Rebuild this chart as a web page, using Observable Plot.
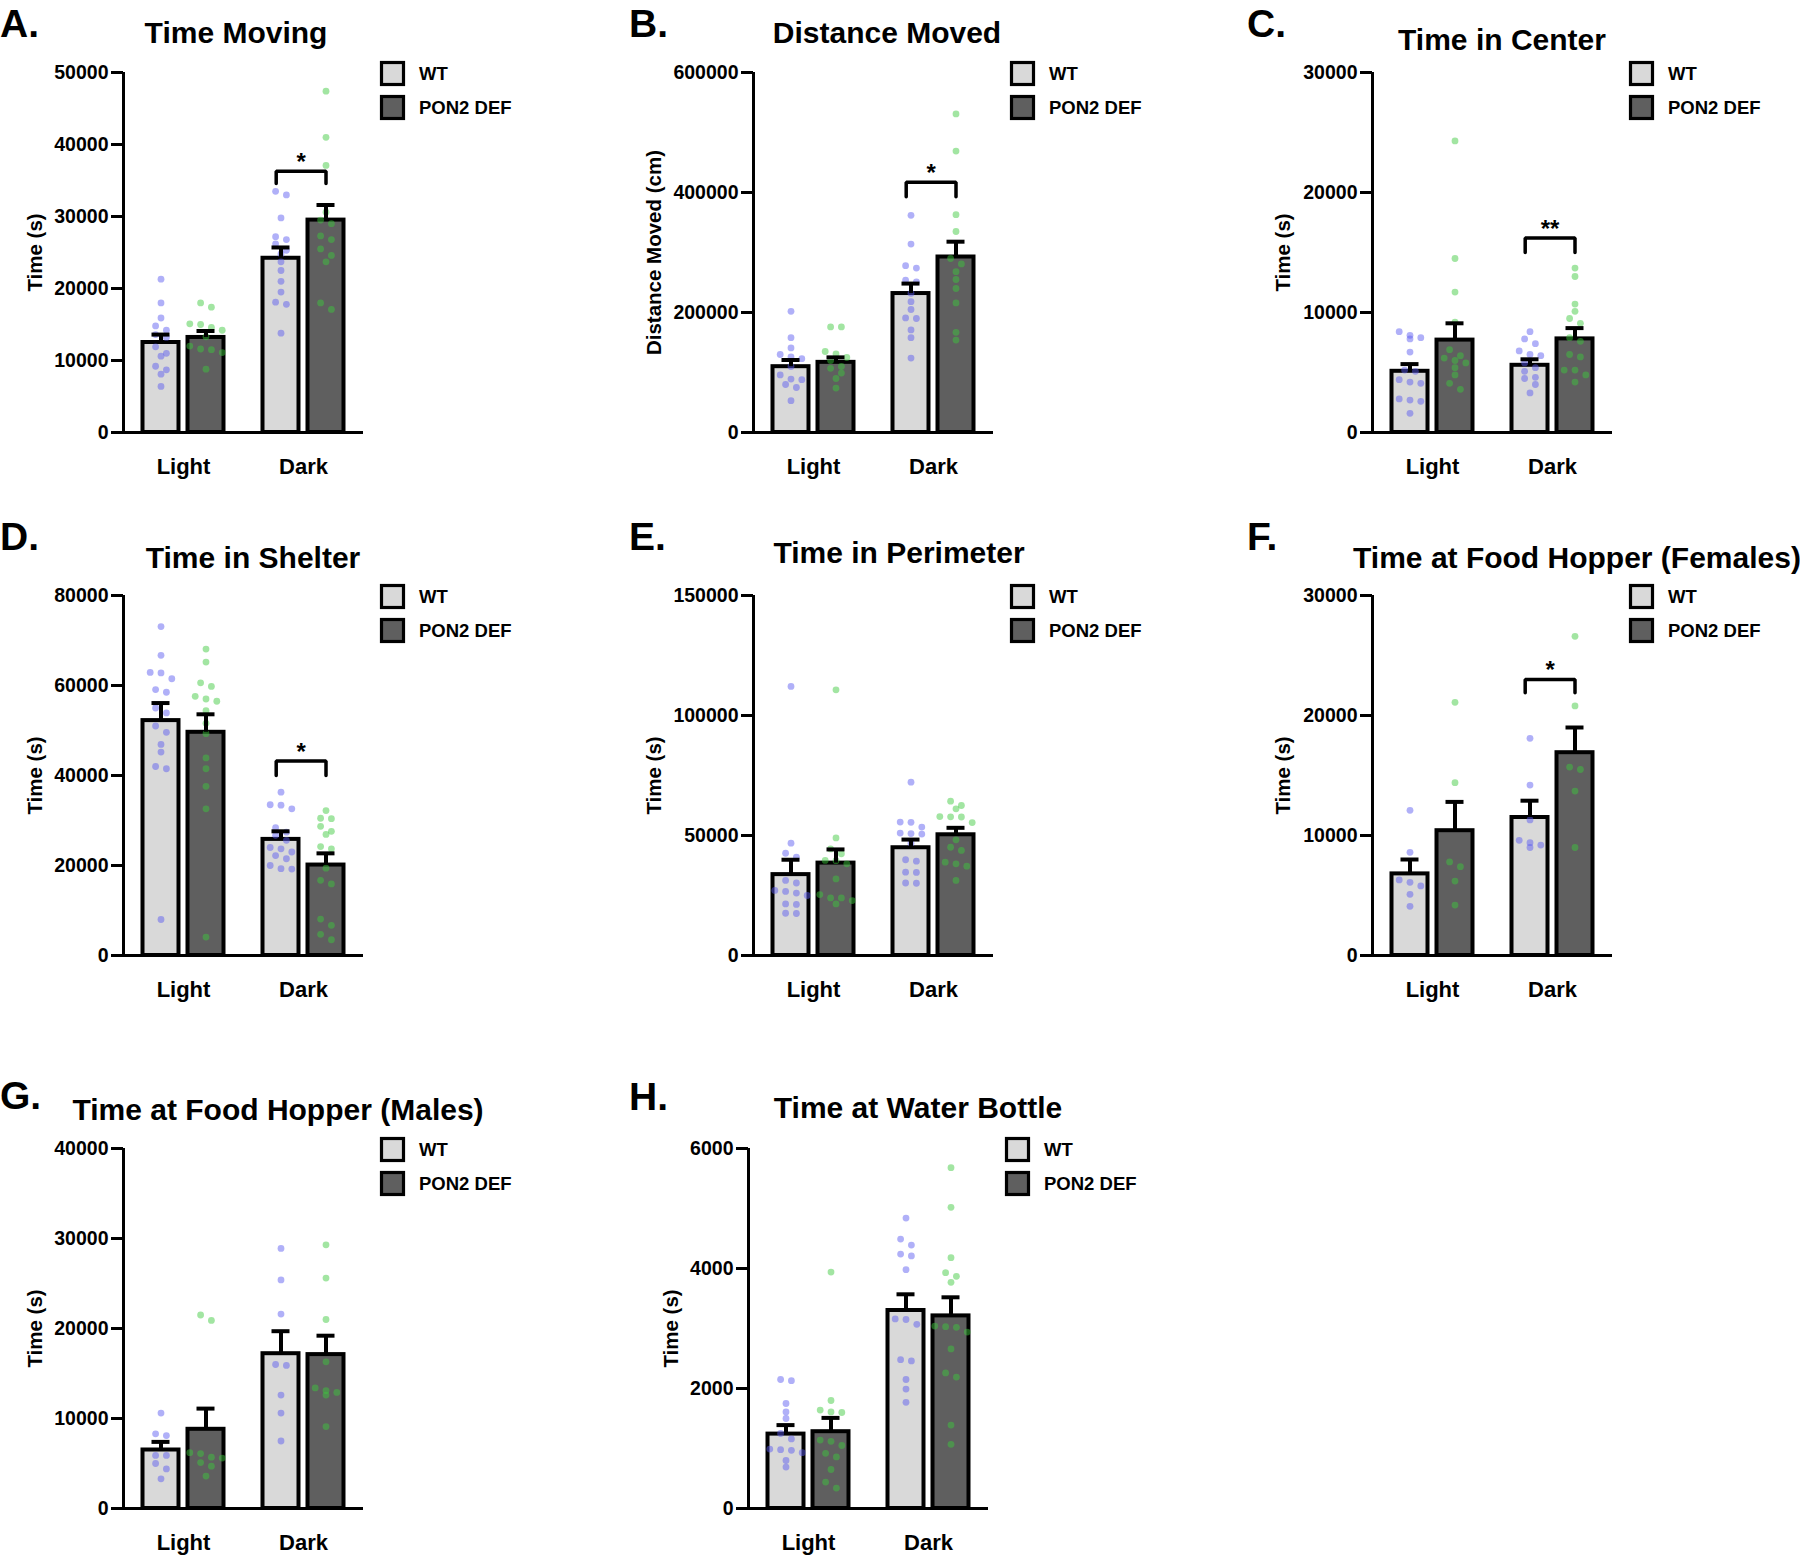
<!DOCTYPE html>
<html><head><meta charset="utf-8">
<script src="https://cdn.jsdelivr.net/npm/d3@7"></script>
<script src="https://cdn.jsdelivr.net/npm/@observablehq/plot@0.6"></script>
<style>
body{margin:0;background:#fff;}
#root{position:relative;width:1800px;height:1557px;overflow:hidden;background:#fff;}
#root svg{position:absolute;}
</style></head><body><div id="root"></div>
<script>
// ---------- DATA ----------
const phases = ["Light", "Dark"];
const genotypes = ["WT", "PON2 DEF"];
// bar order everywhere: Light WT, Light PON2 DEF, Dark WT, Dark PON2 DEF

// A. Time Moving
const movingTicks = [0, 10000, 20000, 30000, 40000, 50000];
const movingMean = [12500, 13200, 24200, 29500];
const movingSem = [1100, 900, 1500, 2100];
const movingWTLight = [21300, 18000, 15900, 14800, 14200, 13600, 13200, 11900, 11000, 10600, 9200, 8700, 8100, 6400];
const movingKOLight = [18000, 17400, 15100, 15000, 14600, 14200, 13300, 12000, 11600, 11500, 11100, 8800];
const movingWTDark = [33500, 33000, 29800, 27200, 26800, 26200, 25300, 24800, 23700, 22500, 21000, 19500, 18100, 17800, 13800];
const movingKODark = [47400, 41000, 37100, 30600, 29500, 29000, 27300, 26800, 25500, 24600, 23700, 18000, 17100];
const movingBracket = [36300, 34600, "*"];

// B. Distance Moved
const distanceTicks = [0, 200000, 400000, 600000];
const distanceMean = [109700, 116900, 231600, 292500];
const distanceSem = [11100, 8300, 16600, 25500];
const distanceWTLight = [202000, 158000, 141000, 130000, 126000, 123000, 110000, 96000, 89000, 88000, 80000, 75000, 53000];
const distanceKOLight = [176000, 176000, 135000, 131000, 125000, 120000, 110000, 107000, 99000, 90000, 74000];
const distanceWTDark = [362000, 314000, 278000, 274000, 254000, 251000, 232000, 218000, 205000, 191000, 190000, 171000, 158000, 124000];
const distanceKODark = [531000, 469000, 363000, 335000, 290000, 281000, 268000, 255000, 240000, 216000, 167000, 154000];
const distanceBracket = [417000, 393000, "*"];

// C. Time in Center
const centerTicks = [0, 10000, 20000, 30000];
const centerMean = [5100, 7700, 5600, 7800];
const centerSem = [600, 1400, 500, 900];
const centerWTLight = [8400, 8100, 7900, 7800, 6700, 5200, 5100, 4400, 4200, 4100, 2800, 2700, 2600, 1600];
const centerKOLight = [24300, 14500, 11700, 9200, 6900, 6400, 6200, 6000, 5800, 5400, 4800, 4100, 3600];
const centerWTDark = [8400, 7800, 7400, 6800, 6500, 6400, 5800, 5400, 5100, 4600, 4500, 4000, 3300];
const centerKODark = [13700, 13000, 10700, 10100, 9500, 9100, 7900, 7600, 6500, 6300, 5200, 5200, 4800, 4200];
const centerBracket = [16200, 15000, "**"];

// D. Time in Shelter
const shelterTicks = [0, 20000, 40000, 60000, 80000];
const shelterMean = [52200, 49600, 25800, 20100];
const shelterSem = [3900, 4000, 1800, 2600];
const shelterWTLight = [73100, 66700, 62900, 62800, 61500, 59100, 58500, 55000, 53900, 51000, 49600, 46900, 45200, 42000, 41500, 8000];
const shelterKOLight = [68100, 65200, 60600, 59800, 57600, 57000, 56500, 54400, 51600, 49300, 43900, 41500, 37600, 32600, 4100];
const shelterWTDark = [36300, 33500, 33400, 32600, 28400, 27400, 26700, 25600, 24000, 23700, 23000, 22200, 21500, 20000, 19300, 19200];
const shelterKODark = [32200, 30500, 30400, 28700, 27600, 26900, 24200, 23700, 19400, 16700, 15900, 8100, 6700, 4700, 3500];
const shelterBracket = [43200, 40000, "*"];

// E. Time in Perimeter
const perimeterTicks = [0, 50000, 100000, 150000];
const perimeterMean = [33700, 38500, 44900, 50300];
const perimeterSem = [6200, 5700, 3400, 2900];
const perimeterWTLight = [112100, 46800, 42600, 41000, 31300, 30200, 27100, 26700, 26000, 25000, 21500, 21300, 17600, 17500];
const perimeterKOLight = [110700, 49000, 44400, 42400, 39600, 39500, 38200, 31900, 25400, 24000, 24000, 22900, 21500];
const perimeterWTDark = [72200, 55600, 55500, 53500, 51000, 50800, 50600, 46800, 39900, 39300, 34700, 34600, 30200, 30100];
const perimeterKODark = [64300, 62500, 61100, 57900, 57800, 57700, 55400, 48200, 45100, 43800, 38900, 38200, 37200, 31300];

// F. Time at Food Hopper (Females)
const femaleTicks = [0, 10000, 20000, 30000];
const femaleMean = [6800, 10400, 11500, 16900];
const femaleSem = [1200, 2400, 1400, 2100];
const femaleWTLight = [12100, 8600, 6300, 6100, 5800, 5100, 4100];
const femaleKOLight = [21100, 14400, 7800, 7400, 6200, 4200];
const femaleWTDark = [18100, 14200, 11300, 9600, 9400, 9200, 9000];
const femaleKODark = [26600, 20800, 15700, 15500, 13700, 9000];
const femaleBracket = [23000, 21900, "*"];

// G. Time at Food Hopper (Males)
const maleTicks = [0, 10000, 20000, 30000, 40000];
const maleMean = [6500, 8800, 17200, 17100];
const maleSem = [900, 2300, 2500, 2100];
const maleWTLight = [10600, 8300, 8100, 5900, 5900, 5000, 4400, 3300];
const maleKOLight = [21500, 20900, 6200, 6100, 5700, 5600, 5100, 4700, 3600];
const maleWTDark = [28900, 25400, 21600, 16000, 15900, 12600, 10600, 7500];
const maleKODark = [29300, 25600, 21000, 16300, 13400, 13100, 12900, 12600, 9100];

// H. Time at Water Bottle
const waterTicks = [0, 2000, 4000, 6000];
const waterMean = [1240, 1280, 3300, 3210];
const waterSem = [150, 230, 270, 310];
const waterWTLight = [2150, 2130, 1750, 1610, 1500, 1250, 1160, 990, 980, 970, 930, 800, 690];
const waterKOLight = [3940, 1800, 1640, 1610, 1600, 1140, 1120, 1050, 920, 860, 650, 440, 340];
const waterWTDark = [4840, 4490, 4390, 4240, 4210, 3980, 3160, 3150, 3070, 2480, 2460, 2150, 1990, 1770];
const waterKODark = [5680, 5020, 4180, 3930, 3870, 3770, 3040, 3030, 3020, 2940, 2660, 2260, 2190, 1390, 1070];

const panels = [
  {letter: "A.", title: "Time Moving", ylabel: "Time (s)", ticks: movingTicks, mean: movingMean, sem: movingSem,
   pts: [movingWTLight, movingKOLight, movingWTDark, movingKODark], bracket: movingBracket},
  {letter: "B.", title: "Distance Moved", ylabel: "Distance Moved (cm)", ticks: distanceTicks, mean: distanceMean, sem: distanceSem,
   pts: [distanceWTLight, distanceKOLight, distanceWTDark, distanceKODark], bracket: distanceBracket},
  {letter: "C.", title: "Time in Center", ylabel: "Time (s)", ticks: centerTicks, mean: centerMean, sem: centerSem,
   pts: [centerWTLight, centerKOLight, centerWTDark, centerKODark], bracket: centerBracket},
  {letter: "D.", title: "Time in Shelter", ylabel: "Time (s)", ticks: shelterTicks, mean: shelterMean, sem: shelterSem,
   pts: [shelterWTLight, shelterKOLight, shelterWTDark, shelterKODark], bracket: shelterBracket},
  {letter: "E.", title: "Time in Perimeter", ylabel: "Time (s)", ticks: perimeterTicks, mean: perimeterMean, sem: perimeterSem,
   pts: [perimeterWTLight, perimeterKOLight, perimeterWTDark, perimeterKODark], bracket: null},
  {letter: "F.", title: "Time at Food Hopper (Females)", ylabel: "Time (s)", ticks: femaleTicks, mean: femaleMean, sem: femaleSem,
   pts: [femaleWTLight, femaleKOLight, femaleWTDark, femaleKODark], bracket: femaleBracket},
  {letter: "G.", title: "Time at Food Hopper (Males)", ylabel: "Time (s)", ticks: maleTicks, mean: maleMean, sem: maleSem,
   pts: [maleWTLight, maleKOLight, maleWTDark, maleKODark], bracket: null},
  {letter: "H.", title: "Time at Water Bottle", ylabel: "Time (s)", ticks: waterTicks, mean: waterMean, sem: waterSem,
   pts: [waterWTLight, waterKOLight, waterWTDark, waterKODark], bracket: null}
];

// ---------- LAYOUT (page positions, px) ----------
const layout = [
  {ax: 123,  top: 72,  lx: 0,    ly: 37,   tx: 236,  ty: 43,   lo: 96},
  {ax: 753,  top: 72,  lx: 629,  ly: 37,   tx: 887,  ty: 43,   lo: 107},
  {ax: 1372, top: 72,  lx: 1247, ly: 37,   tx: 1502, ty: 50,   lo: 97},
  {ax: 123,  top: 595, lx: 0,    ly: 550,  tx: 253,  ty: 568,  lo: 96},
  {ax: 753,  top: 595, lx: 629,  ly: 550,  tx: 899,  ty: 563,  lo: 107},
  {ax: 1372, top: 595, lx: 1247, ly: 550,  tx: 1577, ty: 568,  lo: 97},
  {ax: 123,  top: 1148, lx: 0,   ly: 1109, tx: 278,  ty: 1120, lo: 96},
  {ax: 748,  top: 1148, lx: 629, ly: 1110, tx: 918,  ty: 1118, lo: 85}
];

const FONT = "'Liberation Sans', Arial, Helvetica, sans-serif";
const FW = 240, FH = 360, ML = 130, MR = 12, MT = 14, MB = 60;
const barFill = ["#d9d9d9", "#5f5f5f"];
const dotFill = ["rgb(90,90,240)", "rgb(60,200,60)"];
const root = document.getElementById("root");

function dodge(values, y, step, gap) {
  const idx = values.map((v, i) => i).sort((a, b) => y(values[a]) - y(values[b]));
  const off = new Array(values.length).fill(0);
  let bin = [];
  const flush = () => { const n = bin.length; bin.forEach((i, k) => { off[i] = (k - (n - 1) / 2) * step; }); bin = []; };
  for (const i of idx) {
    if (bin.length && y(values[i]) - y(values[bin[0]]) > gap) flush();
    bin.push(i);
  }
  flush();
  return off;
}

panels.forEach((p, pi) => {
  const L = layout[pi];
  const max = d3.max(p.ticks);
  const yPix = d3.scaleLinear([0, max], [FH, 0]);
  const pxPerUnit = FW / 2;
  const bars = p.mean.map((m, g) => {
    const phase = g >> 1, geno = g & 1;
    const c = phase + 0.5 + (geno === 0 ? -0.1875 : 0.1875);
    return {c, x1: c - 0.15, x2: c + 0.15, mean: m, top: m + p.sem[g], geno};
  });
  const dots = [];
  p.pts.forEach((vals, g) => {
    const off = dodge(vals, yPix, 10.8, 6.5);
    vals.forEach((v, i) => dots.push({x: bars[g].c + off[i] / pxPerUnit, y: v, geno: bars[g].geno}));
  });
  const marks = [
    Plot.rectY(bars, {x1: "x1", x2: "x2", y1: 0, y2: "mean", fill: d => barFill[d.geno], stroke: "black", strokeWidth: 4}),
    Plot.dot(dots, {x: "x", y: "y", r: 3.4, fill: d => dotFill[d.geno], fillOpacity: 0.48, stroke: "none"}),
    Plot.ruleX(bars, {x: "c", y1: "mean", y2: "top", stroke: "black", strokeWidth: 4}),
    Plot.ruleY(bars, {y: "top", x1: d => d.c - 0.075, x2: d => d.c + 0.075, stroke: "black", strokeWidth: 4}),
    Plot.ruleY([0], {stroke: "black", strokeWidth: 3}),
    Plot.ruleX([0], {stroke: "black", strokeWidth: 3}),
    Plot.axisY({ticks: p.ticks, tickFormat: d3.format("d"), tickSize: 12, tickPadding: 3, strokeWidth: 3,
      fontSize: 19.5, fontWeight: "bold", label: null}),
    Plot.axisY({ticks: [], tickSize: 0, fontSize: 20.5, fontWeight: "bold",
      label: p.ylabel, labelAnchor: "center", labelArrow: "none", labelOffset: L.lo}),
    Plot.axisX({ticks: [0.5, 1.5], tickFormat: d => phases[Math.floor(d)], tickSize: 0, tickPadding: 26,
      fontSize: 22, fontWeight: "bold", label: null})
  ];
  if (p.bracket) {
    const [bTop, bBot, star] = p.bracket;
    const xa = bars[2].c - 0.04, xb = bars[3].c;
    const path = [{x: xa, y: bBot}, {x: xa, y: bTop}, {x: xb, y: bTop}, {x: xb, y: bBot}];
    marks.push(Plot.line(path, {x: "x", y: "y", stroke: "black", strokeWidth: 3.5, strokeLinejoin: "miter"}));
    marks.push(Plot.text([{x: (xa + xb) / 2, y: bTop, t: star}], {x: "x", y: "y", text: "t", dy: -9, fontSize: 24, fontWeight: "bold", lineAnchor: "middle"}));
  }
  const svg = Plot.plot({
    width: ML + FW + MR, height: MT + FH + MB,
    marginLeft: ML, marginRight: MR, marginTop: MT, marginBottom: MB,
    x: {domain: [0, 2]}, y: {domain: [0, max]},
    style: {fontFamily: FONT, fontWeight: "bold", fontSize: "19px", color: "black", background: "transparent", overflow: "visible"},
    marks
  });
  svg.style.left = (L.ax - ML) + "px";
  svg.style.top = (L.top - MT) + "px";
  root.appendChild(svg);
});

// titles, letters and legends
const over = d3.select(root).append("svg").attr("width", 1800).attr("height", 1557)
  .style("left", "0px").style("top", "0px").style("pointer-events", "none")
  .attr("font-family", FONT).attr("font-weight", "bold");
panels.forEach((p, pi) => {
  const L = layout[pi];
  over.append("text").attr("x", L.lx).attr("y", L.ly).attr("font-size", 39).text(p.letter);
  over.append("text").attr("x", L.tx).attr("y", L.ty).attr("font-size", 30).attr("text-anchor", "middle").text(p.title);
  genotypes.forEach((g, k) => {
    const bx = L.ax + 257, by = L.top - 11 + k * 34;
    over.append("rect").attr("x", bx + 1.5).attr("y", by + 1.5).attr("width", 22).attr("height", 22)
      .attr("fill", barFill[k]).attr("stroke", "black").attr("stroke-width", 3.2);
    over.append("text").attr("x", bx + 39).attr("y", by + 12.5).attr("dy", "0.35em").attr("font-size", 18.5).text(g);
  });
});
</script></body></html>
